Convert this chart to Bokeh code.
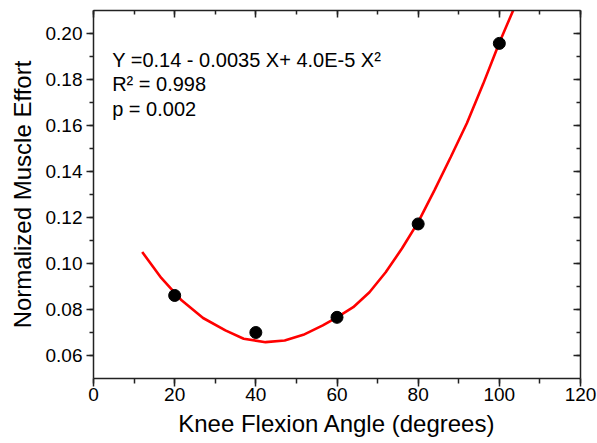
from bokeh.plotting import figure
from bokeh.models import (LinearAxis, SingleIntervalTicker, PrintfTickFormatter,
                          Range1d, Label, CustomJSTickFormatter)
from bokeh.embed import file_html
from bokeh.resources import INLINE

# Measured data points (knee flexion angle in degrees, normalized muscle effort)
angle = [20, 40, 60, 80, 100]
effort = [0.0861, 0.0700, 0.0766, 0.1172, 0.1957]

# Fitted curve
fit_angle = [12, 16.7, 21.7, 27, 32.5, 37, 42.4, 47.1, 51.7, 56.5, 60, 64, 68,
             72, 76, 80, 84, 88, 92, 96, 100, 103.4]
fit_effort = [0.105, 0.0937, 0.084, 0.0763, 0.0709, 0.0673, 0.0658, 0.0665,
              0.069, 0.0731, 0.0766, 0.0810, 0.0875, 0.0962, 0.1065, 0.1180,
              0.1318, 0.1462, 0.1610, 0.1780, 0.1960, 0.2100]

annotation_lines = ["Y =0.14 - 0.0035 X+ 4.0E-5 X\u00b2", "R\u00b2 = 0.998", "p = 0.002"]

x_title = "Knee Flexion Angle (degrees)"
y_title = "Normalized Muscle Effort"

FONT = "Liberation Sans"
AX_COL = "#222222"

p = figure(frame_width=487, frame_height=368, x_range=Range1d(0, 120), y_range=Range1d(0.05, 0.21),
           output_backend="svg", toolbar_location=None,
           min_border_left=93, min_border_right=17, min_border_top=10, min_border_bottom=65)
p.outline_line_color = None
p.xgrid.visible = False
p.ygrid.visible = False
p.background_fill_color = "white"
p.border_fill_color = "white"

xt = SingleIntervalTicker(interval=20, num_minor_ticks=2)
yt = SingleIntervalTicker(interval=0.02, num_minor_ticks=2)

def style(ax):
    ax.axis_line_color = AX_COL
    ax.axis_line_width = 1.5
    ax.major_tick_line_color = AX_COL
    ax.minor_tick_line_color = AX_COL
    ax.major_tick_line_width = 1.5
    ax.minor_tick_line_width = 1.5
    ax.major_label_text_font = FONT
    ax.major_label_text_font_size = "19px"
    ax.major_label_text_color = "black"
    ax.axis_label_text_font = FONT
    ax.axis_label_text_font_size = "24px"
    ax.axis_label_text_font_style = "normal"
    ax.axis_label_text_color = "black"

xa = p.xaxis[0]
xa.ticker = xt
style(xa)
xa.major_tick_out = 8
xa.major_tick_in = 0
xa.minor_tick_out = 5
xa.minor_tick_in = 0
xa.major_label_standoff = 1
xa.axis_label = x_title
xa.axis_label_standoff = 6

ya = p.yaxis[0]
ya.ticker = yt
ya.formatter = PrintfTickFormatter(format="%.2f")
style(ya)
ya.major_tick_out = 7
ya.major_tick_in = 0
ya.minor_tick_out = 4
ya.minor_tick_in = 0
ya.major_label_standoff = 4
ya.axis_label = y_title
ya.axis_label_standoff = 7

for loc, tk in (("above", xt), ("right", yt)):
    ax = LinearAxis(ticker=tk, formatter=CustomJSTickFormatter(code="return ''"))
    style(ax)
    ax.major_label_text_font_size = "1px"
    ax.major_label_standoff = 0
    ax.major_tick_in = 7
    ax.major_tick_out = 0
    ax.minor_tick_in = 4
    ax.minor_tick_out = 0
    p.add_layout(ax, loc)

p.line(fit_angle, fit_effort, line_color="#ff0000", line_width=2.6)
p.scatter(angle, effort, size=12, fill_color="black", line_color="black")

ann_y = [0.1885, 0.1781, 0.1672]
for txt, yy in zip(annotation_lines, ann_y):
    p.add_layout(Label(x=4.6, y=yy, text=txt, text_font=FONT, text_font_size="20px",
                       text_color="black", text_baseline="alphabetic"))

open("out.html", "w").write(file_html(p, INLINE))
